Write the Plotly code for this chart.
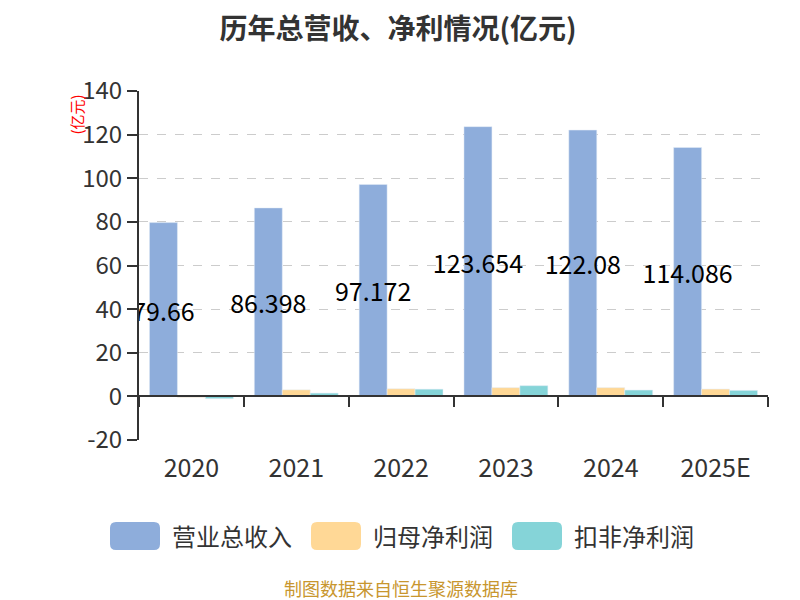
import plotly.graph_objects as go

# 历年总营收、净利情况 (亿元)
years = ["2020", "2021", "2022", "2023", "2024", "2025E"]
revenue = [79.66, 86.398, 97.172, 123.654, 122.08, 114.086]
net_profit = [-0.45, 3.0, 3.5, 4.0, 4.0, 3.35]
net_profit_deducted = [-1.05, 1.5, 3.3, 4.9, 2.9, 2.75]

y_ticks = [-20, 0, 20, 40, 60, 80, 100, 120, 140]
y_tick_text = ["-20", "0", "20", "40", "60", "80", "100", "120", "140"]

series_names = ["营业总收入", "归母净利润", "扣非净利润"]
colors = ["#8EADDB", "#FFD896", "#85D4D8"]

FONT = "Noto Sans CJK SC"

# the page body has an 8px margin, so the figure sits at (8, 8)
OFF = 8
W, H = 800 - 2 * OFF, 600 - OFF
# plot area in page pixels
L, R, T, B = 139, 768, 91, 440


def px_x(x):
    return (x - L) / (R - L)


def px_y(y):
    return (B - y) / (B - T)


def rounded_rect(x0, y0, x1, y1, r=5):
    # page pixels -> paper path with rounded corners
    ax0, ax1 = px_x(x0), px_x(x1)
    ay0, ay1 = px_y(y1), px_y(y0)
    rx = r / (R - L)
    ry = r / (B - T)
    return (
        f"M{ax0 + rx},{ay0} L{ax1 - rx},{ay0} Q{ax1},{ay0} {ax1},{ay0 + ry} "
        f"L{ax1},{ay1 - ry} Q{ax1},{ay1} {ax1 - rx},{ay1} "
        f"L{ax0 + rx},{ay1} Q{ax0},{ay1} {ax0},{ay1 - ry} "
        f"L{ax0},{ay0 + ry} Q{ax0},{ay0} {ax0 + rx},{ay0} Z"
    )


fig = go.Figure(
    data=[
        go.Bar(
            name=series_names[0],
            x=years,
            y=revenue,
            marker=dict(color=colors[0]),
            text=[str(v) for v in revenue],
            textposition="inside",
            insidetextanchor="middle",
            constraintext="none",
            textangle=0,
            textfont=dict(size=25, color="black", family=FONT),
            showlegend=False,
        ),
        go.Bar(
            name=series_names[1],
            x=years,
            y=net_profit,
            marker=dict(color=colors[1]),
            showlegend=False,
        ),
        go.Bar(
            name=series_names[2],
            x=years,
            y=net_profit_deducted,
            marker=dict(color=colors[2]),
            showlegend=False,
        ),
        # empty trace so the zero-line category axis gets drawn
        go.Scatter(
            x=years,
            y=[None] * len(years),
            xaxis="x2",
            showlegend=False,
            hoverinfo="skip",
        ),
    ]
)

fig.update_layout(
    width=W,
    height=H,
    autosize=False,
    plot_bgcolor="white",
    paper_bgcolor="white",
    font=dict(family=FONT, size=24, color="#333333"),
    margin=dict(l=L - OFF, r=800 - OFF - R, t=T - OFF, b=600 - B),
    barmode="group",
    bargap=0.2,
    bargroupgap=0,
    title=dict(
        text="<b>历年总营收、净利情况(亿元)</b>",
        x=(398 - OFF) / W,
        xref="container",
        xanchor="center",
        y=1 - (29 - OFF) / H,
        yanchor="middle",
        font=dict(size=28, color="#333333", family=FONT),
    ),
    xaxis=dict(
        showline=False,
        showgrid=False,
        ticks="",
        ticklabelstandoff=11,
        tickfont=dict(size=25, color="#333333"),
    ),
    xaxis2=dict(
        overlaying="x",
        matches="x",
        anchor="free",
        position=20 / 160,
        showline=True,
        linecolor="#333333",
        linewidth=2,
        ticks="outside",
        ticklen=10,
        tickwidth=2,
        tickcolor="#333333",
        tickson="boundaries",
        showticklabels=False,
        showgrid=False,
    ),
    yaxis=dict(
        range=[-20, 140],
        tickvals=y_ticks,
        ticktext=y_tick_text,
        showline=True,
        linecolor="#333333",
        linewidth=2,
        ticks="outside",
        ticklen=10,
        tickwidth=2,
        tickcolor="#333333",
        showgrid=True,
        gridcolor="#cccccc",
        griddash="dash",
        gridwidth=1,
        zeroline=False,
        tickfont=dict(size=24, color="#333333"),
    ),
)

# y-axis unit
annotations = [
    dict(
        text="(亿元)",
        xref="paper",
        yref="paper",
        x=px_x(76.5),
        y=px_y(115),
        xanchor="center",
        yanchor="middle",
        textangle=-90,
        showarrow=False,
        font=dict(size=15, color="red", family=FONT),
    ),
    dict(
        text="制图数据来自恒生聚源数据库",
        xref="paper",
        yref="paper",
        x=px_x(401),
        y=px_y(588),
        xanchor="center",
        yanchor="middle",
        showarrow=False,
        font=dict(size=18, color="#C8962E", family=FONT),
    ),
]

# hand-made legend with big rounded swatches
shapes = []
legend_swatch_x = [110, 311, 512]
for i, name in enumerate(series_names):
    x0 = legend_swatch_x[i]
    shapes.append(
        dict(
            type="path",
            xref="paper",
            yref="paper",
            path=rounded_rect(x0, 522, x0 + 50, 550, r=6),
            fillcolor=colors[i],
            line=dict(width=0),
        )
    )
    annotations.append(
        dict(
            text=name,
            xref="paper",
            yref="paper",
            x=px_x(x0 + 60),
            y=px_y(535),
            xanchor="left",
            yanchor="middle",
            showarrow=False,
            font=dict(size=24, color="#333333", family=FONT),
        )
    )

fig.update_layout(annotations=annotations, shapes=shapes)

fig.write_html("out.html")
